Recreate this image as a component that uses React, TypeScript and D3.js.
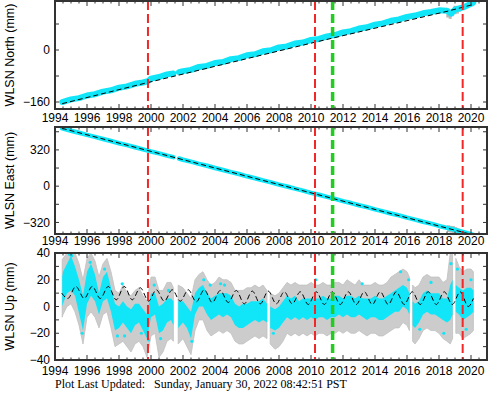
import React from 'react';
import * as d3 from 'd3';

const W = 488;
const H = 400;

// ---- time axis ----
const yearLabels = [1994, 1996, 1998, 2000, 2002, 2004, 2006, 2008, 2010, 2012, 2014, 2016, 2018, 2020];
const redEvents = [1999.81, 2010.25, 2019.48];
const greenEvents = [2011.35];

// ---- North / East daily solution (sampled) ----
const neT = [1994.45, 1995, 1995.5, 1996, 1996.5, 1997, 1997.5, 1998, 1998.5, 1999, 1999.5, 1999.8,
  2000, 2000.5, 2001, 2001.4, 2001.6, 2001.75, 2002, 2002.5, 2003, 2003.5, 2004, 2004.5, 2005, 2005.5,
  2006, 2006.5, 2007, 2007.5, 2008, 2008.5, 2009, 2009.5, 2010, 2010.5, 2011, 2011.5, 2012, 2012.5,
  2013, 2013.5, 2014, 2014.5, 2015, 2015.5, 2016, 2016.5, 2017, 2017.5, 2018, 2018.5, 2018.75, 2019,
  2019.5, 2020, 2020.14];
const northV = [-160, -152, -148, -140, -136, -128, -124, -116, -112, -104, -100, -96,
  -88, -83, -75, -72, NaN, -68, -65, -61, -52, -49, -40, -37, -28, -25,
  -16, -13, -4, -1, 8, 11, 20, 23, 31, 34, 42, 46, 54, 58,
  66, 70, 78, 82, 90, 94, 102, 106, 113, 117, 122, 121, 112, 124,
  131, 142, 146];
const eastV = [510, 489, 471, 452, 435, 416, 398, 379, 362, 343, 325, 314,
  306, 289, 270, 256, NaN, 244, 233, 216, 197, 180, 160, 143, 124, 107,
  87, 70, 51, 34, 14, -3, -22, -39, -59, -76, -95, -112, -132, -149,
  -168, -185, -205, -222, -241, -258, -278, -295, -314, -331, -351, -368, -377, -387,
  -404, -424, -430];

// model (black dashed)
const nModelT = [1994.45, 1999.81, 2010.25, 2018.5, 2020.14];
const nModelV = [-165, -100, 24, 119, 140];
const eModelT = [1994.42, 2020.2];
const eModelV = [511, -432];

// gray error bars where noisy
const nErrT = [2018.55, 2018.7, 2018.85, 2019.0, 2019.15, 2019.3];
const nErrLo = [100, 96, 104, 110, 112, 118];
const nErrHi = [118, 116, 126, 136, 136, 134];
const eErrT = [2018.6, 2018.75, 2018.9, 2019.05, 2019.2];
const eErrLo = [-405, -410, -415, -418, -420];
const eErrHi = [-345, -350, -352, -362, -372];

// ---- Up ----
const upT = [1994.45, 1994.5, 1994.75, 1995, 1995.25, 1995.5, 1995.75, 1996, 1996.25, 1996.5, 1996.75,
  1997, 1997.25, 1997.5, 1997.75, 1998, 1998.25, 1998.5, 1998.75, 1999, 1999.25, 1999.5, 1999.75,
  2000, 2000.25, 2000.5, 2000.75, 2001, 2001.25, 2001.4, 2001.55, 2001.7, 2002, 2002.25, 2002.5, 2002.75,
  2003, 2003.25, 2003.5, 2003.75, 2004, 2004.25, 2004.5, 2004.75, 2005, 2005.25, 2005.5, 2005.75,
  2006, 2006.25, 2006.5, 2006.75, 2007, 2007.25, 2007.35, 2007.45, 2007.75, 2008, 2008.25, 2008.5, 2008.75,
  2009, 2009.25, 2009.5, 2009.75, 2010, 2010.25, 2010.5, 2010.75, 2011, 2011.25, 2011.5, 2011.75,
  2012, 2012.25, 2012.5, 2012.75, 2013, 2013.25, 2013.5, 2013.75, 2014, 2014.25, 2014.5, 2014.75,
  2015, 2015.25, 2015.5, 2015.75, 2016, 2016.15, 2016.25, 2016.35, 2016.5, 2016.75,
  2017, 2017.25, 2017.5, 2017.75, 2018, 2018.25, 2018.5, 2018.7, 2018.85, 2018.95, 2019.05, 2019.25,
  2019.5, 2019.75, 2020, 2020.15];
const upLo = [0, 2, 10, 12, 8, -5, -18, 2, 8, 4, -6,
  4, 6, -4, -18, -16, -12, -16, -20, -14, -12, -18, -24,
  -8, -6, -20, -18, -12, -10, -14, NaN, -16, -12, -16, -24, -6,
  0, 0, -6, -10, -8, -6, -8, -6, -8, -14, -16, -16,
  -14, -12, -10, -12, -10, -12, NaN, -16, -18, -16, -12, -8, -10,
  -8, -10, -8, -10, -8, -10, -8, -8, -10, -8, -8, -6,
  -8, -6, -8, -8, -6, -8, -10, -8, -8, -10, -10, -8,
  -6, -4, -4, 0, -2, -6, NaN, -14, -16, -12,
  -6, -4, -6, -6, -8, -10, -12, -10, -6, NaN, -4, -6,
  -10, -8, -6, -4];
const upHi = [22, 26, 32, 38, 30, 20, 8, 26, 32, 24, 10,
  22, 26, 14, 2, 0, 4, 0, -2, 2, 2, -2, -6,
  10, 10, 0, 2, 6, 6, 4, NaN, 4, 4, 0, -4, 10,
  14, 16, 10, 6, 8, 10, 10, 10, 8, 2, 0, 2,
  2, 4, 4, 4, 6, 2, NaN, 0, -2, 0, 4, 8, 6,
  8, 4, 6, 6, 6, 6, 6, 8, 6, 6, 8, 8,
  6, 8, 8, 6, 8, 6, 6, 6, 8, 6, 6, 8,
  10, 12, 14, 16, 14, 10, NaN, 4, 2, 4,
  10, 12, 10, 10, 10, 6, 6, 16, 20, NaN, 16, 14,
  12, 14, 14, 12];
const grayLo = [-8, -6, 0, 2, -4, -14, -28, -8, -4, -8, -16,
  -6, -4, -16, -30, -28, -26, -30, -34, -28, -26, -30, -38,
  -22, -20, -38, -34, -26, -24, -26, NaN, -28, -24, -30, -36, -18,
  -10, -10, -18, -22, -20, -18, -20, -18, -20, -26, -28, -28,
  -26, -24, -22, -24, -22, -24, NaN, -28, -32, -30, -26, -20, -22,
  -20, -22, -20, -22, -20, -22, -20, -20, -22, -20, -20, -18,
  -20, -18, -20, -20, -18, -20, -22, -20, -20, -22, -22, -20,
  -18, -16, -16, -12, -14, -18, NaN, -26, -28, -24,
  -18, -16, -18, -18, -20, -24, -26, -28, -24, NaN, -20, -20,
  -24, -22, -20, -18];
const grayHi = [35, 36, 40, 40, 40, 32, 20, 36, 40, 34, 22,
  32, 36, 26, 12, 10, 16, 10, 8, 12, 14, 8, 4,
  22, 22, 12, 12, 18, 18, 14, NaN, 16, 14, 10, 6, 20,
  24, 26, 20, 16, 18, 22, 20, 20, 18, 12, 12, 12,
  14, 14, 16, 14, 16, 12, NaN, 10, 8, 10, 14, 18, 16,
  18, 16, 16, 16, 18, 16, 16, 18, 16, 16, 18, 18,
  16, 20, 18, 16, 20, 16, 16, 16, 18, 16, 16, 18,
  22, 24, 26, 28, 26, 22, NaN, 16, 14, 16,
  22, 24, 22, 22, 22, 18, 20, 40, 40, NaN, 36, 30,
  26, 28, 28, 26];
const upOutT = [1994.9, 1995.05, 1995.7, 1996.2, 1997.1, 1997.9, 1998.2, 1998.35, 1999.4, 1999.85,
  2000.2, 2000.6, 2001.1, 2002.55, 2003.3, 2003.7, 2004.35, 2004.6, 2007.65, 2010.3,
  2013.2, 2015.6, 2016.1, 2016.8, 2017.5, 2018.3, 2018.75, 2019.15, 2019.7, 2020.0];
const upOutV = [39, 38, -20, 33, 28, -22, 17, -22, -20, -25,
  16, -24, 12, -26, 20, 16, 17, 16, -20, 20,
  17, 26, 20, -17, 18, -20, 32, 28, -17, 20];
// model (seasonal peaks / troughs)
const upModelT = [1994.42, 1994.8, 1995.3, 1995.83, 1996.33, 1996.83, 1997.33, 1997.83, 1998.33, 1998.83,
  1999.33, 1999.85, 2000.33, 2000.83, 2001.33, 2001.83, 2002.33, 2002.83, 2003.33, 2003.83,
  2004.33, 2004.83, 2005.33, 2005.83, 2006.33, 2006.83, 2007.33, 2007.83, 2008.33, 2008.83,
  2009.33, 2009.83, 2010.33, 2010.83, 2011.33, 2011.83, 2012.33, 2012.83, 2013.33, 2013.83,
  2014.33, 2014.83, 2015.33, 2015.83, 2016.33, 2016.83, 2017.33, 2017.83, 2018.33, 2018.83,
  2019.33, 2019.83, 2020.15];
const upModelV = [10, 6, 15, 6, 15, 6, 15, 5, 15, 5,
  14, 4, 12.5, 4, 12.5, 4, 12.5, 3.5, 12.5, 3,
  12, 3, 12, 2, 11.5, 2, 11.5, 2, 11, 2,
  11, 1.5, 11, 1.5, 11, 1.5, 11, 1.5, 11, 1.5,
  11, 1.5, 11, 1.5, 11, 1.5, 11, 1.5, 11, 1.5,
  11, 0, 6];

const CYAN = '#10e6f8';
const GRAY = '#b8b8b8';
const RED = '#f02828';
const GREEN = '#22cc22';
const FRAME = '#333';
const FONT = '"Liberation Sans", Arial, Helvetica, sans-serif';

const x = d3.scaleLinear().domain([1994, 2021]).range([55, 487]);

type Panel = {
  id: string;
  top: number;
  bottom: number;
  domain: [number, number];
  label: string;
  labels: number[];
  minor: number[];
  labelY: number;
};

const panels: Panel[] = [
  { id: 'n', top: 1, bottom: 109, domain: [-181.5, 150.8], label: 'WLSN North (mm)', labels: [-160, 0], minor: [-160, -80, 0, 80], labelY: 121.5 },
  { id: 'e', top: 127, bottom: 234, domain: [-422, 522], label: 'WLSN East (mm)', labels: [-320, 0, 320], minor: [-320, -160, 0, 160, 320, 480], labelY: 244.5 },
  { id: 'u', top: 253, bottom: 360, domain: [-40, 40], label: 'WLSN Up (mm)', labels: [-40, -20, 0, 20, 40], minor: d3.range(-40, 41, 10), labelY: 375 },
];

const fmt = (v: number) => (v < 0 ? '\u2212' + Math.abs(v) : String(v));

function Frame({ p, y }: { p: Panel; y: d3.ScaleLinear<number, number> }) {
  const minorX = d3.range(1994, 2021.01, 0.5);
  return (
    <g>
      <rect x={55} y={p.top} width={432} height={p.bottom - p.top} fill="none" stroke={FRAME} strokeWidth={2} />
      {minorX.map((t) => {
        const major = Math.abs(t - Math.round(t)) < 1e-6 && Math.round(t) % 2 === 0;
        const len = major ? 5 : 2.5;
        return (
          <g key={t} stroke={FRAME} strokeWidth={1}>
            <line x1={x(t)} x2={x(t)} y1={p.top} y2={p.top + len} />
            <line x1={x(t)} x2={x(t)} y1={p.bottom} y2={p.bottom - len} />
          </g>
        );
      })}
      {p.minor.map((v) => (
        <g key={v} stroke={FRAME} strokeWidth={1}>
          <line x1={55} x2={59} y1={y(v)} y2={y(v)} />
          <line x1={487} x2={483} y1={y(v)} y2={y(v)} />
        </g>
      ))}
      {p.labels.map((v) => (
        <text key={v} x={50} y={y(v)} dy="0.35em" textAnchor="end" fontSize={12} fontFamily={FONT} fill="#000">
          {fmt(v)}
        </text>
      ))}
      {yearLabels.map((t) => (
        <text key={t} x={x(t)} y={p.labelY} textAnchor="middle" fontSize={12} fontFamily={FONT} fill="#000">
          {t}
        </text>
      ))}
      <text
        transform={`translate(14,${(p.top + p.bottom) / 2}) rotate(-90)`}
        textAnchor="middle"
        fontSize={12.5}
        fontFamily={FONT}
        fill="#000"
      >
        {p.label}
      </text>
    </g>
  );
}

function Events({ p }: { p: Panel }) {
  return (
    <g>
      {greenEvents.map((t) => (
        <line key={'g' + t} x1={x(t)} x2={x(t)} y1={p.top} y2={p.bottom} stroke={GREEN} strokeWidth={3.5} strokeDasharray="9,4" />
      ))}
      {redEvents.map((t) => (
        <line key={'r' + t} x1={x(t)} x2={x(t)} y1={p.top} y2={p.bottom} stroke={RED} strokeWidth={2} strokeDasharray="9,4" />
      ))}
    </g>
  );
}

function NEPanel({ p, vals, mT, mV, errT, errLo, errHi, width }: {
  p: Panel; vals: number[]; mT: number[]; mV: number[]; errT: number[]; errLo: number[]; errHi: number[]; width: number;
}) {
  const y = d3.scaleLinear().domain(p.domain).range([p.bottom, p.top]);
  const line = d3.line<number>()
    .defined((_, i) => !isNaN(vals[i]))
    .x((_, i) => x(neT[i]))
    .y((v) => y(v));
  const model = d3.line<number>().x((_, i) => x(mT[i])).y((v) => y(v));
  return (
    <g>
      <defs>
        <clipPath id={'clip-' + p.id}>
          <rect x={56} y={p.top + 1} width={430} height={p.bottom - p.top - 2} />
        </clipPath>
      </defs>
      <g clipPath={`url(#clip-${p.id})`}>
        {errT.map((t, i) => (
          <line key={t} x1={x(t)} x2={x(t)} y1={y(errLo[i])} y2={y(errHi[i])} stroke={GRAY} strokeWidth={3} />
        ))}
        <path d={line(vals) || ''} fill="none" stroke={CYAN} strokeWidth={width} strokeLinejoin="round" strokeLinecap="round" />
        <path d={model(mV) || ''} fill="none" stroke="#000" strokeWidth={1} strokeDasharray="5,3" />
        <Events p={p} />
      </g>
      <Frame p={p} y={y} />
    </g>
  );
}

function UpPanel({ p }: { p: Panel }) {
  const y = d3.scaleLinear().domain(p.domain).range([p.bottom, p.top]);
  const grayArea = d3.area<number>()
    .defined((_, i) => !isNaN(grayLo[i]))
    .x((_, i) => x(upT[i]))
    .y0((v) => y(v))
    .y1((_, i) => y(grayHi[i]));
  const cyanArea = d3.area<number>()
    .defined((_, i) => !isNaN(upLo[i]))
    .x((_, i) => x(upT[i]))
    .y0((v) => y(v))
    .y1((_, i) => y(upHi[i]));
  const model = d3.line<number>().x((_, i) => x(upModelT[i])).y((v) => y(v)).curve(d3.curveMonotoneX);
  return (
    <g>
      <defs>
        <clipPath id={'clip-' + p.id}>
          <rect x={56} y={p.top + 1} width={430} height={p.bottom - p.top - 2} />
        </clipPath>
      </defs>
      <g clipPath={`url(#clip-${p.id})`}>
        <path d={grayArea(grayLo) || ''} fill="#cccccc" stroke="#c0c0c0" strokeWidth={0.8} />
        <path d={cyanArea(upLo) || ''} fill={CYAN} />
        {upOutT.map((t, i) => (
          <circle key={t} cx={x(t)} cy={y(upOutV[i])} r={1.6} fill={CYAN} />
        ))}
        <path d={model(upModelV) || ''} fill="none" stroke="#000" strokeWidth={1} strokeDasharray="5,3" />
        <Events p={p} />
      </g>
      <Frame p={p} y={y} />
    </g>
  );
}

export default function App() {
  return (
    <svg width={W} height={H} viewBox={`0 0 ${W} ${H}`} style={{ position: 'absolute', left: 0, top: 0, background: '#fff' }}>
      <rect width={W} height={H} fill="#fff" />
      <NEPanel p={panels[0]} vals={northV} mT={nModelT} mV={nModelV} errT={nErrT} errLo={nErrLo} errHi={nErrHi} width={6} />
      <NEPanel p={panels[1]} vals={eastV} mT={eModelT} mV={eModelV} errT={eErrT} errLo={eErrLo} errHi={eErrHi} width={4.5} />
      <UpPanel p={panels[2]} />
      <text x={55} y={388} fontSize={12} fontFamily='"Liberation Serif", "Times New Roman", serif' fill="#000" style={{ whiteSpace: 'pre' }}>
        {'Plot Last Updated:   Sunday, January 30, 2022 08:42:51 PST'}
      </text>
    </svg>
  );
}
